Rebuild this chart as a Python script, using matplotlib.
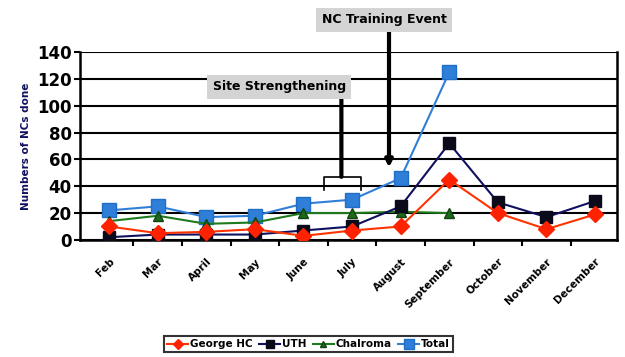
import matplotlib
matplotlib.use("Agg")
import matplotlib.pyplot as plt
import numpy as np

months = ["Feb", "Mar", "April", "May", "June", "July", "August",
          "September", "October", "November", "December"]
george_hc = [10, 5, 6, 8, 3, 7, 10, 45, 20, 8, 19]
uth = [2, 4, 4, 4, 7, 10, 25, 72, 28, 17, 29]
chalroma = [14, 18, 12, 13, 20, 20, 21, 20, None, None, None]
total = [22, 25, 17, 18, 27, 30, 46, 125, None, None, None]
yticks = [0, 20, 40, 60, 80, 100, 120, 140]

plt.rcParams['font.family'] = ['DejaVu Sans']
fig = plt.figure(figsize=(6.25, 3.57), dpi=100)
ax = fig.add_axes([0.128, 0.328, 0.859, 0.526])

x = np.arange(len(months))

def arr(v):
    return np.array([np.nan if a is None else a for a in v], dtype=float)

ax.plot(x, arr(total), color="#2f7fd8", lw=1.5, marker="s", ms=10,
        mfc="#2f7fd8", mec="#1f6fc8", label="Total", zorder=3)
ax.plot(x, arr(chalroma), color="#1d7a1d", lw=1.5, marker="^", ms=7,
        mfc="#1d6a1d", mec="#114411", label="Chalroma", zorder=4)
ax.plot(x, arr(uth), color="#101060", lw=1.5, marker="s", ms=9,
        mfc="#0a0a1a", mec="#0a0a1a", label="UTH", zorder=5)
ax.plot(x, arr(george_hc), color="#ff3300", lw=1.5, marker="D", ms=8,
        mfc="#ff2200", mec="#ff2200", label="George HC", zorder=6)

ax.set_xlim(-0.6, 10.45)
ax.set_ylim(0, 140)
ax.set_yticks(yticks)
ax.set_yticklabels([str(t) for t in yticks], fontsize=12, fontweight="bold")
ax.set_xticks(x)
ax.set_xticklabels(months, rotation=45, ha="right", rotation_mode="anchor",
                   fontsize=7.5, fontweight="bold")
ax.set_xticks(x[:-1] + 0.5, minor=True)
ax.tick_params(axis="x", which="major", length=0, pad=12)
ax.tick_params(axis="x", which="minor", length=4, width=1.5, color="black")
ax.tick_params(axis="y", length=4, width=1.5, pad=2)
ax.grid(axis="y", color="black", lw=1.5)
ax.set_axisbelow(True)
ax.spines["top"].set_visible(False)
for s in ["left", "bottom", "right"]:
    ax.spines[s].set_linewidth(1.8)

ax.set_ylabel("Numbers of NCs done", color="#101060", fontsize=7.5,
              fontweight="bold", labelpad=4)

# annotations
box = dict(boxstyle="square,pad=0.45", fc="#d4d4d4", ec="none")
ax.text(3.5, 114, "Site Strengthening", fontsize=9, fontweight="bold",
        ha="center", va="center", bbox=box, clip_on=False, zorder=7)
ax.annotate("", xy=(4.78, 47), xytext=(4.78, 106), annotation_clip=False,
            arrowprops=dict(arrowstyle="-", lw=3, color="black",
                            shrinkA=0, shrinkB=0))
ax.plot([4.42, 4.42, 5.18, 5.18], [37, 47, 47, 37], color="black", lw=1.2)
ax.text(5.66, 164, "NC Training Event", fontsize=9, fontweight="bold",
        ha="center", va="center", bbox=box, clip_on=False, zorder=7)
ax.annotate("", xy=(5.76, 54), xytext=(5.76, 155), annotation_clip=False,
            arrowprops=dict(arrowstyle="-|>", lw=3, color="black",
                            mutation_scale=10, shrinkA=0, shrinkB=0))

leg = fig.legend(loc="center", bbox_to_anchor=(0.494, 0.036), ncol=4,
                 handles=[ax.lines[3], ax.lines[2], ax.lines[1], ax.lines[0]],
                 prop=dict(size=7.5, weight="bold"), frameon=True,
                 fancybox=False, edgecolor="black", handlelength=2,
                 handletextpad=0.2, columnspacing=0.6, borderpad=0.3,
                 markerscale=0.7)
leg.get_frame().set_linewidth(1.5)

fig.savefig("out.png", dpi=100)
